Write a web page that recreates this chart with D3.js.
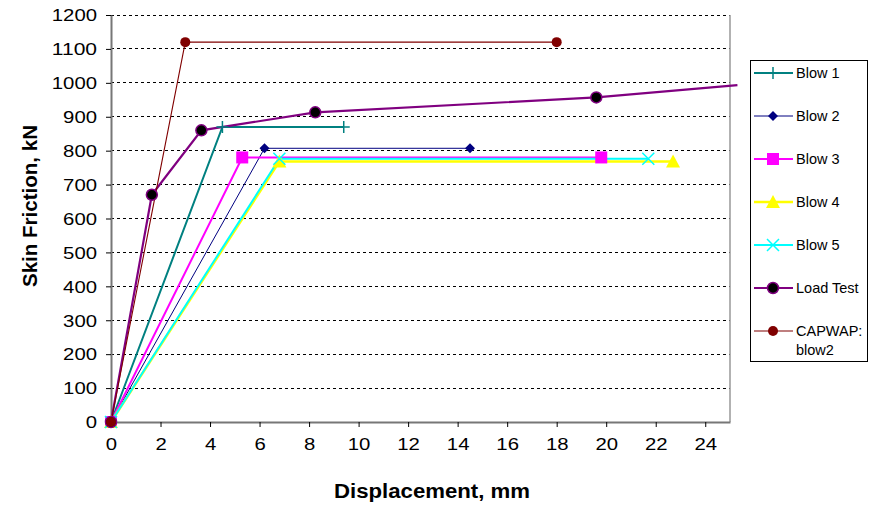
<!DOCTYPE html>
<html lang="en">
<head>
<meta charset="UTF-8">
<title>Skin Friction vs Displacement</title>
<style>
  body { margin: 0; padding: 0; background: #fff; font-family: Arial, "Liberation Sans", sans-serif; }
  svg text { font-family: Arial, "Liberation Sans", sans-serif; }
</style>
</head>
<body>
<div id="chart"></div>
<script src="https://cdn.jsdelivr.net/npm/d3@7"></script>
<script>
// series data: [displacement mm, skin friction kN]
var blow1 = [[0, 0], [4.5, 870], [9.4, 870]];
var blow2 = [[0, 0], [6.2, 807], [14.5, 807]];
var blow3 = [[0, 0], [5.3, 780], [19.8, 780]];
var blow4 = [[0, 0], [6.8, 768], [22.7, 768]];
var blow5 = [[0, 0], [6.8, 776], [21.7, 776]];
var loadTest = [[0, 0], [1.65, 670], [3.65, 860], [8.25, 913], [19.6, 957], [25.3, 993]];
var capwap = [[0, 0], [3.0, 1120], [18.0, 1120]];

var seriesNames = ["Blow 1", "Blow 2", "Blow 3", "Blow 4", "Blow 5", "Load Test", "CAPWAP:\nblow2"];
var xTicks = [0, 2, 4, 6, 8, 10, 12, 14, 16, 18, 20, 22, 24];
var yTicks = [0, 100, 200, 300, 400, 500, 600, 700, 800, 900, 1000, 1100, 1200];

var series = [
  { name: seriesNames[0], data: blow1, color: "#008080", width: 2, marker: "plus" },
  { name: seriesNames[1], data: blow2, color: "#000080", width: 1, marker: "diamond" },
  { name: seriesNames[2], data: blow3, color: "#ff00ff", width: 2, marker: "square" },
  { name: seriesNames[3], data: blow4, color: "#ffff00", width: 2.5, marker: "triangle" },
  { name: seriesNames[4], data: blow5, color: "#00ffff", width: 2, marker: "cross" },
  { name: seriesNames[5], data: loadTest, color: "#800080", width: 2.2, marker: "circleBlack" },
  { name: seriesNames[6], data: capwap, color: "#800000", width: 1.1, marker: "circle" }
];

var W = 877, H = 505;
var margin = { top: 15, right: 147, bottom: 83, left: 111 };
var width = W - margin.left - margin.right;
var height = H - margin.top - margin.bottom;

var svg = d3.select("#chart").append("svg")
  .attr("width", W).attr("height", H);

var g = svg.append("g")
  .attr("transform", "translate(" + margin.left + "," + margin.top + ")");

var x = d3.scaleLinear().domain([0, 25]).range([0, width]);
var y = d3.scaleLinear().domain([0, 1200]).range([height, 0]);

// dashed gridlines
g.selectAll(".grid")
  .data(yTicks.filter(d => d > 0))
  .enter().append("line")
  .attr("x1", 0).attr("x2", width)
  .attr("y1", d => y(d)).attr("y2", d => y(d))
  .attr("stroke", "#000").attr("stroke-width", 1)
  .attr("stroke-dasharray", "3,3")
  .attr("shape-rendering", "crispEdges");

// right border of plot area
g.append("line")
  .attr("x1", width).attr("x2", width)
  .attr("y1", 0).attr("y2", height)
  .attr("stroke", "#999").attr("stroke-width", 1.5);

// axes
var fmt = d3.format("d");
var xAxis = g.append("g")
  .attr("transform", "translate(0," + height + ")")
  .call(d3.axisBottom(x).tickValues(xTicks).tickFormat(fmt).tickSize(5).tickPadding(11).tickSizeOuter(0));
var yAxis = g.append("g")
  .call(d3.axisLeft(y).tickValues(yTicks).tickFormat(fmt).tickSize(5).tickPadding(9).tickSizeOuter(0));

[xAxis, yAxis].forEach(function(a) {
  a.select(".domain").attr("stroke", "#777").attr("stroke-width", 2);
  a.selectAll(".tick line").attr("stroke", "#000").attr("stroke-width", 1);
  a.selectAll(".tick text")
    .attr("font-size", "16px").attr("fill", "#000")
    .attr("textLength", d => String(d).length * 11.3)
    .attr("lengthAdjust", "spacingAndGlyphs");
});
yAxis.selectAll(".tick text").attr("dy", "0.36em");
xAxis.selectAll(".tick text").attr("dy", "0.75em");

// axis titles
svg.append("text")
  .attr("x", 432).attr("y", 498)
  .attr("text-anchor", "middle")
  .attr("font-size", "20px").attr("font-weight", "bold")
  .attr("textLength", 196).attr("lengthAdjust", "spacingAndGlyphs")
  .text("Displacement, mm");

svg.append("text")
  .attr("transform", "translate(37,206) rotate(-90)")
  .attr("text-anchor", "middle")
  .attr("font-size", "20px").attr("font-weight", "bold")
  .attr("textLength", 162).attr("lengthAdjust", "spacingAndGlyphs")
  .text("Skin Friction, kN");

var line = d3.line().x(d => x(d[0])).y(d => y(d[1]));

function drawMarker(sel, type, color) {
  if (type === "plus") {
    sel.append("path").attr("d", "M-6,0H6M0,-6V6")
      .attr("stroke", color).attr("stroke-width", 1.5).attr("fill", "none");
  } else if (type === "diamond") {
    sel.append("path").attr("d", "M0,-5L5,0L0,5L-5,0Z").attr("fill", color);
  } else if (type === "square") {
    sel.append("rect").attr("x", -6).attr("y", -6).attr("width", 12).attr("height", 12).attr("fill", color);
  } else if (type === "triangle") {
    sel.append("path").attr("d", "M0,-7L7,6H-7Z").attr("fill", color);
  } else if (type === "cross") {
    sel.append("path").attr("d", "M-6,-6L6,6M-6,6L6,-6")
      .attr("stroke", color).attr("stroke-width", 1.5).attr("fill", "none");
  } else if (type === "circleBlack") {
    sel.append("circle").attr("r", 5.5).attr("fill", "#000")
      .attr("stroke", color).attr("stroke-width", 1.5);
  } else if (type === "circle") {
    sel.append("circle").attr("r", 5).attr("fill", color);
  }
}

// lines first, then markers on top
series.forEach(function(s) {
  g.append("path")
    .datum(s.data)
    .attr("fill", "none")
    .attr("stroke", s.color)
    .attr("stroke-width", s.width)
    .attr("d", line);
});
series.forEach(function(s) {
  s.data.filter(d => d[0] <= 25).forEach(function(d) {
    var m = g.append("g").attr("transform", "translate(" + x(d[0]) + "," + y(d[1]) + ")");
    drawMarker(m, s.marker, s.color);
  });
});

// legend
var legend = svg.append("g").attr("transform", "translate(750,60)");
legend.append("rect")
  .attr("x", 0.5).attr("y", 0.5).attr("width", 117).attr("height", 301)
  .attr("fill", "#fff").attr("stroke", "#000").attr("stroke-width", 1);

series.forEach(function(s, i) {
  var ly = 13 + i * 43;
  var e = legend.append("g").attr("transform", "translate(0," + ly + ")");
  e.append("line").attr("x1", 4).attr("x2", 43).attr("y1", 0).attr("y2", 0)
    .attr("stroke", s.color).attr("stroke-width", s.width);
  var m = e.append("g").attr("transform", "translate(23,0)");
  drawMarker(m, s.marker, s.color);
  var lines = s.name.split("\n");
  lines.forEach(function(t, k) {
    e.append("text").attr("x", 46).attr("y", k * 19).attr("dy", "0.35em")
      .attr("font-size", "14.5px").attr("fill", "#000").text(t);
  });
});
</script>
</body>
</html>
